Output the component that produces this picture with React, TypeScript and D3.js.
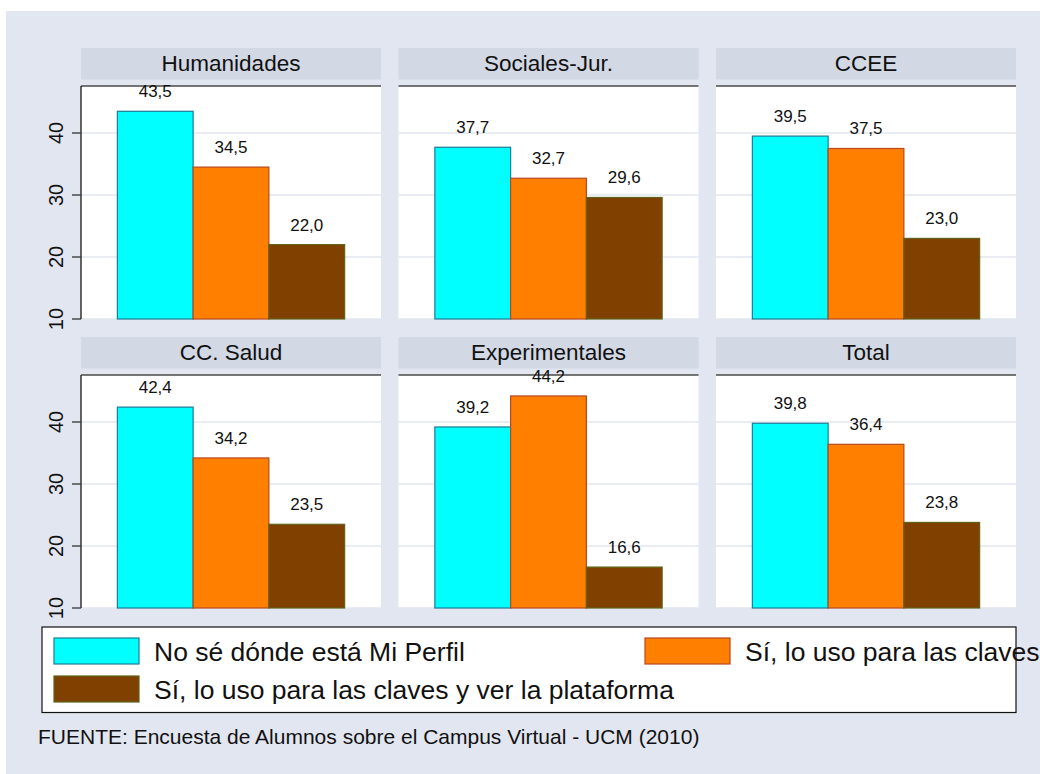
import React from 'react'
import * as d3 from 'd3'

const categories = ['Humanidades', 'Sociales-Jur.', 'CCEE', 'CC. Salud', 'Experimentales', 'Total']
const seriesNames = [
  'No sé dónde está Mi Perfil',
  'Sí, lo uso para las claves',
  'Sí, lo uso para las claves y ver la plataforma',
]
const noSe = [43.5, 37.7, 39.5, 42.4, 39.2, 39.8]
const claves = [34.5, 32.7, 37.5, 34.2, 44.2, 36.4]
const clavesVer = [22.0, 29.6, 23.0, 23.5, 16.6, 23.8]
const yTicks = [10, 20, 30, 40]

const fills = ['#00FFFF', '#FF7F00', '#804000']
const strokes = ['#1D7A96', '#B8481E', '#5E6318']

const W = 1040
const H = 774
const BG = '#E1E6F0'
const STRIP = '#D2D8E4'
const FONT = 'Arial, "Liberation Sans", Helvetica, sans-serif'

const fmt = d3.formatLocale({ decimal: ',', thousands: '.', grouping: [3], currency: ['', ''] }).format('.1f')

export default function App() {
  const series = [noSe, claves, clavesVer]

  // facet layout: 3 columns x 2 rows
  const col = d3.scaleBand<number>().domain([0, 1, 2]).range([81, 1016]).paddingInner(0.0551)
  const rowTop = [86, 375]
  const plotH = 233
  const y = d3.scaleLinear().domain([10, 47.58]).range([plotH, 0])
  const x = d3
    .scaleBand<number>()
    .domain([0, 1, 2])
    .range([0, col.bandwidth()])
    .paddingInner(0)
    .paddingOuter(0.48)

  return (
    <svg
      width={W}
      height={H}
      style={{ position: 'absolute', left: 0, top: 0, display: 'block', overflow: 'hidden' }}
      fontFamily={FONT}
    >
      <rect x={0} y={0} width={W} height={H} fill="#ffffff" />
      <rect x={6} y={11} width={W - 6} height={H - 11} fill={BG} />

      {categories.map((cat, i) => {
        const c = i % 3
        const r = Math.floor(i / 3)
        const px = col(c)!
        const py = rowTop[r]
        const bw = col.bandwidth()
        return (
          <g key={cat} transform={`translate(${px},${py})`}>
            {/* strip */}
            <rect x={0} y={-38} width={bw} height={31.5} fill={STRIP} />
            <text x={bw / 2} y={-15.5} textAnchor="middle" fontSize={22.5} fill="#111">
              {cat}
            </text>
            {/* plot region */}
            <rect x={0} y={0} width={bw} height={plotH} fill="#ffffff" />
            {yTicks.map((t) => (
              <line
                key={t}
                x1={0}
                x2={bw}
                y1={y(t)}
                y2={y(t)}
                stroke="#E2E6EF"
                strokeWidth={1.6}
              />
            ))}
            {/* bars */}
            {series.map((vals, s) => (
              <rect
                key={s}
                x={x(s)!}
                y={y(vals[i])}
                width={x.bandwidth()}
                height={y(10) - y(vals[i])}
                fill={fills[s]}
                stroke={strokes[s]}
                strokeWidth={1.2}
              />
            ))}
            <line x1={0} x2={bw} y1={0} y2={0} stroke="#4a4a4a" strokeWidth={1.5} />
            {series.map((vals, s) => (
              <text
                key={s}
                x={x(s)! + x.bandwidth() / 2}
                y={y(vals[i]) - 14}
                textAnchor="middle"
                fontSize={17}
                fill="#111"
              >
                {fmt(vals[i])}
              </text>
            ))}
            {/* y axis on first column */}
            {c === 0 && (
              <g>
                <line x1={0} x2={0} y1={0} y2={plotH} stroke="#333" strokeWidth={1.5} />
                {yTicks.map((t) => (
                  <g key={t} transform={`translate(0,${y(t)})`}>
                    <line x1={-9} x2={0} stroke="#333" strokeWidth={1.3} />
                    <text
                      transform="translate(-18,0) rotate(-90)"
                      textAnchor="middle"
                      fontSize={20}
                      fill="#111"
                    >
                      {t}
                    </text>
                  </g>
                ))}
              </g>
            )}
          </g>
        )
      })}

      {/* legend */}
      <rect x={42} y={627} width={974} height={85.5} fill="#ffffff" stroke="#111" strokeWidth={1.2} />
      {seriesNames.map((name, s) => {
        const lx = s === 1 ? 645 : 54
        const ly = s === 2 ? 676 : 638
        return (
          <g key={name}>
            <rect x={lx} y={ly} width={85} height={26} fill={fills[s]} stroke={strokes[s]} strokeWidth={1.2} />
            <text x={lx + 100} y={ly + 23} fontSize={26.5} fill="#111">
              {name}
            </text>
          </g>
        )
      })}

      <text x={38} y={744} fontSize={21} fill="#111">
        FUENTE: Encuesta de Alumnos sobre el Campus Virtual - UCM (2010)
      </text>
    </svg>
  )
}
